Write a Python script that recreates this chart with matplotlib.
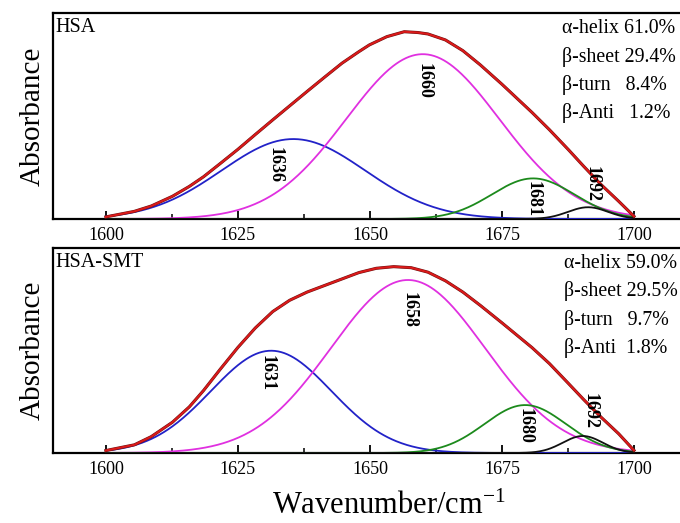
import numpy as np
import matplotlib
matplotlib.use("Agg")
import matplotlib.pyplot as plt
from matplotlib.ticker import MultipleLocator

plt.rcParams["mathtext.fontset"] = "custom"
plt.rcParams["mathtext.rm"] = "Liberation Serif"
plt.rcParams["mathtext.it"] = "Liberation Serif:italic"
plt.rcParams["mathtext.bf"] = "Liberation Serif:bold"

# ---------------- data ----------------
band_colors = ["#2222c8", "#e030e0", "#1c8a1c", "#111111"]

# fitted Gaussian band components: centre, height, width (sigma)
hsa_centers = [1635.5, 1660.0, 1680.9, 1691.3]
hsa_heights = [0.388, 0.800, 0.197, 0.057]
hsa_widths = [13.6, 14.5, 7.8, 3.8]
hsa_labels = ["1636", "1660", "1681", "1692"]
hsa_label_x = [1632.0, 1660.3, 1680.9, 1692.1]
hsa_label_y = [0.26, 0.67, 0.095, 0.172]
hsa_texts = ["α-helix 61.0%", "β-sheet 29.4%", "β-turn   8.4%", "β-Anti   1.2%"]

smt_centers = [1631.3, 1657.2, 1679.4, 1690.3]
smt_heights = [0.499, 0.844, 0.234, 0.083]
smt_widths = [11.4, 14.6, 7.7, 3.8]
smt_labels = ["1631", "1658", "1680", "1692"]
smt_label_x = [1630.5, 1657.4, 1679.4, 1691.7]
smt_label_y = [0.392, 0.70, 0.131, 0.207]
smt_texts = ["α-helix 59.0%", "β-sheet 29.5%", "β-turn   9.7%", "β-Anti  1.8%"]

# measured spectra (red curves)
hsa_spec_x = [1600, 1605.4, 1608.6, 1612.6, 1615.8, 1618.5, 1621.7, 1625.0,
              1628.3, 1631.6, 1634.8, 1638.1, 1641.4, 1644.7, 1647.9, 1649.9,
              1653.2, 1656.5, 1659.1, 1661.0, 1664.3, 1667.6, 1670.9, 1675.0,
              1680.7, 1684.0, 1687.6, 1690.5, 1693.8, 1697.1, 1700]
hsa_spec_y = [0.010, 0.037, 0.063, 0.110, 0.158, 0.205, 0.270, 0.338,
              0.410, 0.481, 0.549, 0.619, 0.688, 0.756, 0.812, 0.845,
              0.885, 0.909, 0.905, 0.898, 0.869, 0.817, 0.748, 0.654,
              0.517, 0.433, 0.336, 0.255, 0.166, 0.086, 0.013]

smt_spec_x = [1600, 1605.4, 1608.6, 1612.6, 1615.8, 1618.5, 1621.7, 1625.0,
              1628.3, 1631.6, 1634.8, 1638.1, 1641.4, 1644.7, 1647.9, 1651.2,
              1654.5, 1657.8, 1661.0, 1664.3, 1667.6, 1670.9, 1675.0, 1680.7,
              1684.0, 1687.6, 1690.5, 1693.8, 1697.1, 1700]
smt_spec_y = [0.012, 0.040, 0.080, 0.150, 0.225, 0.305, 0.410, 0.515,
              0.610, 0.690, 0.745, 0.785, 0.817, 0.849, 0.880, 0.901,
              0.909, 0.904, 0.882, 0.840, 0.785, 0.720, 0.635, 0.514,
              0.436, 0.339, 0.260, 0.174, 0.094, 0.013]

xticks = [1600, 1625, 1650, 1675, 1700]
wn_start, wn_end = 1600, 1700

serif = ["Liberation Serif", "DejaVu Serif"]

x = np.linspace(wn_start, wn_end, 501)

fig = plt.figure(figsize=(6.8, 5.23), dpi=100)
ax_top = fig.add_axes([0.078, 0.5813, 0.932, 0.3939])
ax_bot = fig.add_axes([0.078, 0.1338, 0.932, 0.3920])

panels = [
    (ax_top, "HSA", hsa_centers, hsa_heights, hsa_widths, hsa_labels,
     hsa_label_x, hsa_label_y, hsa_texts, hsa_spec_x, hsa_spec_y, 1686.4),
    (ax_bot, "HSA-SMT", smt_centers, smt_heights, smt_widths, smt_labels,
     smt_label_x, smt_label_y, smt_texts, smt_spec_x, smt_spec_y, 1686.8),
]

for (ax, name, cs, hs, ws, labs, lx, ly, ptxt, sx, sy, tx) in panels:
    for c, h, w, col in zip(cs, hs, ws, band_colors):
        g = h * np.exp(-(x - c) ** 2 / (2 * w ** 2))
        ax.plot(x, g, color=col, lw=1.3, zorder=3)
    ax.plot(sx, sy, color="#6a1010", lw=2.2, zorder=4, solid_joinstyle="round")
    ax.plot(sx, sy, color="#da1a1a", lw=1.5, zorder=5, solid_joinstyle="round")

    for t, xx, yy in zip(labs, lx, ly):
        ax.text(xx, yy, t, rotation=-90, ha="center", va="center",
                fontsize=13, fontweight="bold", family=serif, zorder=6)

    ax.text(0.004, 0.975, name, transform=ax.transAxes, ha="left", va="top",
            fontsize=14.5, family=serif)
    for i, s in enumerate(ptxt):
        ax.text(tx, 0.925 - i * 0.137, s,
                ha="left", va="center", fontsize=14.3, family=serif)

    ax.set_xlim(1590, 1710)
    ax.set_ylim(0, 1.0)
    ax.set_xticks(xticks)
    ax.xaxis.set_minor_locator(MultipleLocator(12.5))
    ax.tick_params(axis="x", which="major", direction="in", length=5.5,
                   width=1.3, labelsize=13, pad=6)
    ax.tick_params(axis="x", which="minor", direction="in", length=3.5,
                   width=1.1)
    ax.set_yticks([])
    for lab in ax.get_xticklabels():
        lab.set_family(serif)
    for sp in ax.spines.values():
        sp.set_linewidth(1.6)
    ax.set_ylabel("Absorbance", family=serif, fontsize=21, labelpad=5)

ax_bot.set_xlabel(r"Wavenumber/cm$^{\mathrm{-1}}$", family=serif, fontsize=22)
ax_bot.xaxis.set_label_coords(0.53, -0.19)

fig.savefig("out.png", dpi=100)
